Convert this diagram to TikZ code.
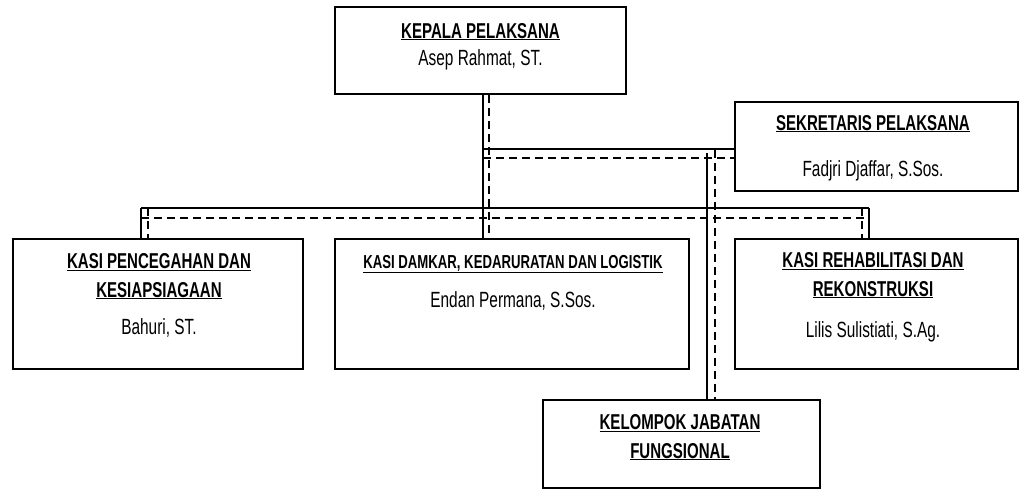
\documentclass[tikz,border=0pt]{standalone}
\usepackage{fontspec}
\setmainfont{Liberation Sans}[FakeStretch=0.7]
\usepackage{tikz}
\usetikzlibrary{positioning}

\begin{document}
\begin{tikzpicture}
%   [scale=.5,every node/.style={draw}]
[x=1pt,y=-1pt,line width=1.8pt,
  unit box/.style={draw,line width=2pt,inner sep=0pt},
  head text/.style={anchor=base,align=center,inner sep=0pt,font=\fontsize{21.5}{28.5}\selectfont\bfseries},
  name text/.style={anchor=base,inner sep=0pt,font=\fontsize{22}{24}\selectfont},
  dash line/.style={dash pattern=on 8pt off 5pt}]

  \useasboundingbox (0,0) rectangle (1025,501);

  \node [unit box,minimum width=291pt,minimum height=87pt] (kepala) at 	(480.5,50.5) 	{};
  \node [unit box,minimum width=283pt,minimum height=89pt] (sekretaris) at 	(876.5,146.5) 	{};
  \node [unit box,minimum width=290pt,minimum height=130pt] (pencegahan) at 	(158,304) 	{};
  \node [unit box,minimum width=354pt,minimum height=130pt] (damkar) at 	(512,304) 	{};
  \node [unit box,minimum width=283pt,minimum height=130pt] (rehab) at 	(876.5,304) 	{};
  \node [unit box,minimum width=277pt,minimum height=88pt] (kelompok) at 	(681.5,444) 	{};

  \node [head text] (kepalaHead) at 		(480.5,38) 	{\underline{KEPALA PELAKSANA}};
  \node [name text] (kepalaName) at 		(480.5,65) 	{Asep Rahmat, ST.};
  \node [head text] (sekretarisHead) at 	(873,130) 	{\underline{SEKRETARIS PELAKSANA}};
  \node [name text] (sekretarisName) at 	(873,176) 	{Fadjri Djaffar, S.Sos.};
  \node [head text] (pencegahanHead) at 	(159,297) 	{\underline{KASI PENCEGAHAN DAN}\\\underline{KESIAPSIAGAAN}};
  \node [name text] (pencegahanName) at 	(159,334) 	{Bahuri, ST.};
  \node [head text,font=\fontsize{18.8}{24}\selectfont\bfseries] (damkarHead) at 	(513,268) 	{\underline{KASI DAMKAR, KEDARURATAN DAN LOGISTIK}};
  \node [name text] (damkarName) at 		(513,307) 	{Endan Permana, S.Sos.};
  \node [head text] (rehabHead) at 		(873,296) 	{\underline{KASI REHABILITASI DAN}\\\underline{REKONSTRUKSI}};
  \node [name text] (rehabName) at 		(873,337) 	{Lilis Sulistiati, S.Ag.};
  \node [head text] (kelompokHead) at 		(680,458) 	{\underline{KELOMPOK JABATAN}\\\underline{FUNGSIONAL}};

  \coordinate (sjoin) at (483,149);
  \coordinate (djoin) at (483,158);
  \coordinate (sbusL) at (141,208);
  \coordinate (sbusR) at (869,208);
  \coordinate (dbusL) at (141,218);
  \coordinate (dbusR) at (866,218);
  \coordinate (dlegL) at (148,208);
  \coordinate (dlegR) at (862,208);
  \coordinate (sdrop) at (707,153);
  \coordinate (ddrop) at (715,150);

  \draw ([xshift=2.5pt]kepala.south) -- ([xshift=2.5pt]kepala.south |- damkar.north);
  \draw [dash line] ([xshift=8.5pt]kepala.south) -- ([xshift=8.5pt]kepala.south |- damkar.north);

  \draw (sjoin) -- (sjoin -| sekretaris.west);
  \draw [dash line] (djoin) -- (djoin -| sekretaris.west);
  \draw (sbusL) -- (sbusR);
  \draw [dash line] (dbusL) -- (dbusR);

   \foreach \from/\to in {sbusL/pencegahan,sbusR/rehab,sdrop/kelompok}
     \draw (\from) -- (\from |- \to.north);
   \foreach \from/\to in {dlegL/pencegahan,dlegR/rehab,ddrop/kelompok}
     \draw [dash line] (\from) -- (\from |- \to.north);

\end{tikzpicture}
\end{document}
